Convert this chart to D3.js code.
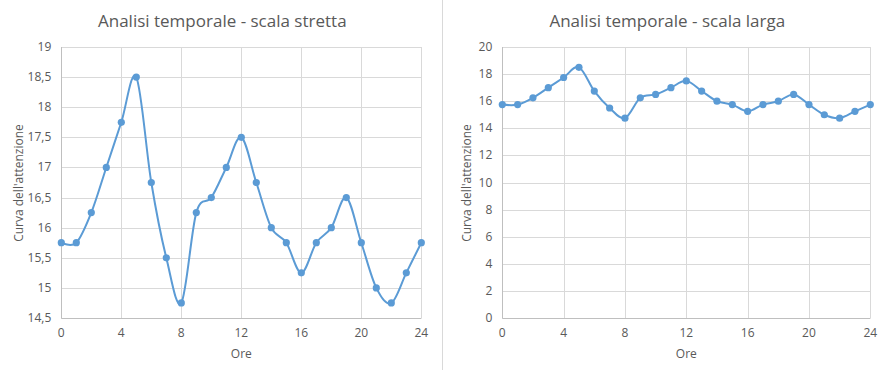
<!DOCTYPE html>
<html>
<head>
<meta charset="utf-8">
<script src="https://cdn.jsdelivr.net/npm/d3@7"></script>
<style>
  body { margin: 0; background: #fff; }
  text { font-family: "Open Sans", "Noto Sans", sans-serif; fill: #595959; }
</style>
</head>
<body>
<svg id="chart" width="890" height="370"></svg>
<script>
// data
const ore = [0, 1, 2, 3, 4, 5, 6, 7, 8, 9, 10, 11, 12, 13, 14, 15, 16, 17, 18, 19, 20, 21, 22, 23, 24];
const attenzione = [15.75, 15.75, 16.25, 17, 17.75, 18.5, 16.75, 15.5, 14.75, 16.25, 16.5, 17, 17.5,
                    16.75, 16, 15.75, 15.25, 15.75, 16, 16.5, 15.75, 15, 14.75, 15.25, 15.75];
const xTicks = [0, 4, 8, 12, 16, 20, 24];
const yTicksStretta = [14.5, 15, 15.5, 16, 16.5, 17, 17.5, 18, 18.5, 19];
const yTicksLarga = [0, 2, 4, 6, 8, 10, 12, 14, 16, 18, 20];

const svg = d3.select("#chart");
const blue = "#5B9BD5";
const fmt = d => String(d).replace(".", ",");

// thin separator between the two charts
svg.append("line")
    .attr("x1", 442.5).attr("x2", 442.5)
    .attr("y1", 0).attr("y2", 370)
    .attr("stroke", "#d9d9d9");

function drawChart(opts) {
    const g = svg.append("g");
    const x = d3.scaleLinear().domain([0, 24]).range([opts.left, opts.right]);
    const y = d3.scaleLinear().domain(opts.yDomain).range([318, 47]);

    // grid
    g.selectAll("line.h").data(opts.yTicks).join("line")
        .attr("x1", opts.left).attr("x2", opts.right)
        .attr("y1", d => Math.round(y(d)) + 0.5).attr("y2", d => Math.round(y(d)) + 0.5)
        .attr("stroke", "#d9d9d9");
    g.selectAll("line.v").data(xTicks).join("line")
        .attr("y1", 47).attr("y2", 318)
        .attr("x1", d => Math.round(x(d)) + 0.5).attr("x2", d => Math.round(x(d)) + 0.5)
        .attr("stroke", "#d9d9d9");

    // axis lines
    g.append("line")
        .attr("x1", opts.left).attr("x2", opts.right)
        .attr("y1", 318.5).attr("y2", 318.5).attr("stroke", "#bfbfbf");
    g.append("line")
        .attr("x1", Math.round(opts.left) + 0.5).attr("x2", Math.round(opts.left) + 0.5)
        .attr("y1", 47).attr("y2", 318).attr("stroke", "#bfbfbf");

    // tick labels
    g.selectAll("text.yt").data(opts.yTicks).join("text")
        .attr("x", opts.left - 10).attr("y", d => y(d) + 4)
        .attr("text-anchor", "end").attr("font-size", 12)
        .text(fmt);
    g.selectAll("text.xt").data(xTicks).join("text")
        .attr("x", d => x(d)).attr("y", 337)
        .attr("text-anchor", "middle").attr("font-size", 12)
        .text(d => d);

    // titles
    g.append("text")
        .attr("x", (opts.left + opts.right) / 2 - 19).attr("y", 27)
        .attr("text-anchor", "middle").attr("font-size", 17)
        .text(opts.title);
    g.append("text")
        .attr("x", (opts.left + opts.right) / 2).attr("y", 358)
        .attr("text-anchor", "middle").attr("font-size", 12)
        .text("Ore");
    g.append("text")
        .attr("transform", "translate(" + opts.yTitleX + ",183) rotate(-90)")
        .attr("text-anchor", "middle").attr("font-size", 12)
        .text("Curva dell'attenzione");

    // smoothed line + markers
    const line = d3.line()
        .x((d, i) => x(ore[i]))
        .y(d => y(d))
        .curve(d3.curveCatmullRom.alpha(0));
    g.append("path")
        .attr("d", line(attenzione))
        .attr("fill", "none")
        .attr("stroke", blue)
        .attr("stroke-width", 2);
    g.selectAll("circle").data(attenzione).join("circle")
        .attr("cx", (d, i) => x(ore[i]))
        .attr("cy", d => y(d))
        .attr("r", 3.6)
        .attr("fill", blue);
}

drawChart({
    left: 61.3, right: 421.3, yDomain: [14.5, 19], yTicks: yTicksStretta,
    title: "Analisi temporale - scala stretta", yTitleX: 23
});
drawChart({
    left: 502.3, right: 870.3, yDomain: [0, 20], yTicks: yTicksLarga,
    title: "Analisi temporale - scala larga", yTitleX: 471
});
</script>
</body>
</html>
